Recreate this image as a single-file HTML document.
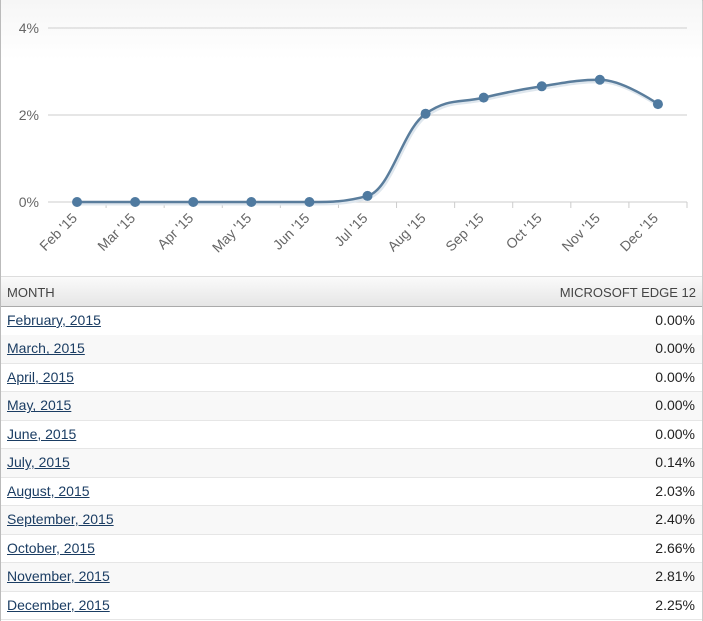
<!DOCTYPE html>
<html><head><meta charset="utf-8"><style>
body{margin:0;width:703px;height:620px;overflow:hidden;background:#fff;font-family:"Liberation Sans",Arial,sans-serif;}
#wrap{position:absolute;left:0;top:0;width:701px;height:620px;border-left:1px solid #bbb;border-top:1px solid #bbb;border-right:1px solid #ccc;}
#chart{position:absolute;left:0;top:-1px;width:701px;height:276px;background:linear-gradient(#f6f6f6,#fff 60px);}
#thead{position:absolute;left:0;top:275px;width:701px;height:31px;background:linear-gradient(#fafafa,#e6e6e6);border-top:1px solid #ddd;border-bottom:1px solid #aaa;box-sizing:border-box;font-size:13px;color:#444;}
#thead span{position:absolute;top:8px}
.row{position:absolute;left:0;width:701px;height:28.5px;border-bottom:1px solid #e6e6e6;box-sizing:border-box;font-size:14px;}
.row a{position:absolute;left:6px;top:5px;color:#1b3d63;text-decoration:underline;}
.row span{position:absolute;right:7px;top:5px;color:#222;}
</style></head><body>
<div id="wrap">
<div id="chart"><svg id="svg" width="701" height="276"></svg></div>
<div id="thead"><span style="left:6px">MONTH</span><span style="right:6px">MICROSOFT EDGE 12</span></div>
<div id="rows"></div>
</div>
<script>
const categories=["Feb '15","Mar '15","Apr '15","May '15","Jun '15","Jul '15","Aug '15","Sep '15","Oct '15","Nov '15","Dec '15"];
const monthNames=["February, 2015","March, 2015","April, 2015","May, 2015","June, 2015","July, 2015","August, 2015","September, 2015","October, 2015","November, 2015","December, 2015"];
const values=[0,0,0,0,0,0.14,2.03,2.40,2.66,2.81,2.25];
const yTicks=[0,2,4];
const NS="http://www.w3.org/2000/svg";
const svg=document.getElementById('svg');
const left=47,right=686,y0=202,pxPer=43.5;
const step=(right-left)/categories.length;
const xs=i=>left+step*(i+0.5);
const ys=v=>y0-v*pxPer;
function mk(t,a){const e=document.createElementNS(NS,t);for(const k in a)e.setAttribute(k,a[k]);svg.appendChild(e);return e;}
yTicks.forEach(t=>{
 const l=mk('line',{x1:left,x2:right,y1:ys(t),y2:ys(t),stroke:'#d8d8d8','stroke-width':1.3});
 
 
 const tx=mk('text',{x:38,y:ys(t)+5,'text-anchor':'end','font-size':14,fill:'#666','font-family':'Liberation Sans, Arial, sans-serif'});
 tx.textContent=t+'%';
 
 
});
for(let i=1;i<=categories.length;i++){
 const l=mk('line',{x1:left+step*i,x2:left+step*i,y1:y0,y2:y0+6,stroke:'#ccc'});
 
 
}
categories.forEach((c,i)=>{
 const x=xs(i)+1,y=y0+17;
 const t=mk('text',{x:x,y:y,'text-anchor':'end','font-size':14,fill:'#666','font-family':'Liberation Sans, Arial, sans-serif',transform:`rotate(-45 ${x} ${y})`});
 t.textContent=c;
 
 
});
const pts=values.map((v,i)=>[xs(i),ys(v)]);
let d=`M${pts[0][0]},${pts[0][1]}`;
const sm=1.5,den=sm+1;
function ctrl(i){
 if(i===0||i===pts.length-1)return null;
 const [px,py]=pts[i-1],[x,y]=pts[i],[nx,ny]=pts[i+1];
 let lx=(sm*x+px)/den,ly=(sm*y+py)/den,rx=(sm*x+nx)/den,ry=(sm*y+ny)/den;
 const cor=((ry-ly)*(rx-x))/(rx-lx)+y-ry;
 ly+=cor;ry+=cor;
 if(ly>py&&ly>y){ly=Math.max(py,y);ry=2*y-ly;}else if(ly<py&&ly<y){ly=Math.min(py,y);ry=2*y-ly;}
 if(ry>ny&&ry>y){ry=Math.max(ny,y);ly=2*y-ry;}else if(ry<ny&&ry<y){ry=Math.min(ny,y);ly=2*y-ry;}
 return [lx,ly,rx,ry];
}
const C=pts.map((p,i)=>ctrl(i));
for(let i=1;i<pts.length;i++){
 const a=C[i-1]?[C[i-1][2],C[i-1][3]]:pts[i-1];
 const b=C[i]?[C[i][0],C[i][1]]:pts[i];
 d+=` C${a[0]},${a[1]} ${b[0]},${b[1]} ${pts[i][0]},${pts[i][1]}`;
}
const sh=mk('path',{d:d,fill:'none',stroke:'#dfe7ee','stroke-width':4,transform:'translate(1,1.5)'});


const line=mk('path',{d:d,fill:'none',stroke:'#5a7d9c','stroke-width':2.5});


pts.forEach((p,i)=>{
 const c=mk('circle',{cx:p[0],cy:p[1],r:5,fill:'#4f7aa0'});
 
 
});
const rows=document.getElementById('rows');
monthNames.forEach((m,i)=>{
 const r=document.createElement('div');
 r.className='row';
 r.style.top=(306+i*28.45)+'px';
 r.style.background=i%2?'#f8f8f8':'#fff';
 
 
 const a=document.createElement('a');
 a.textContent=m;
 
 
 const s=document.createElement('span');
 s.textContent=values[i].toFixed(2)+'%';
 
 
 r.appendChild(a);r.appendChild(s);rows.appendChild(r);
});
</script>
</body></html>
